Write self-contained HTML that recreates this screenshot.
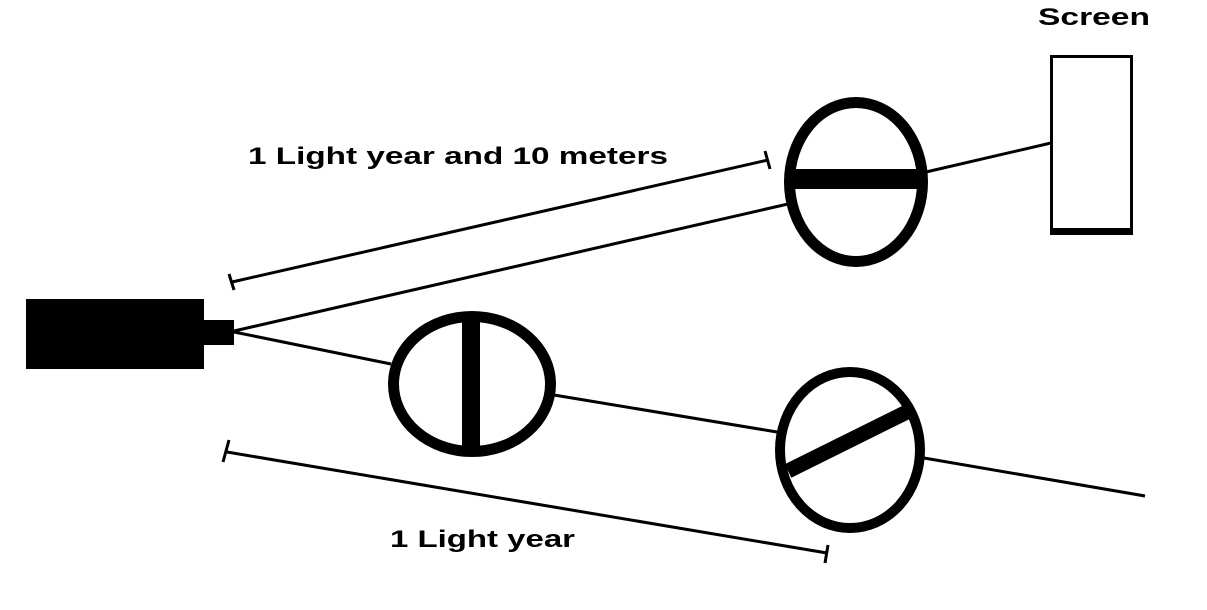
<!DOCTYPE html>
<html><head><style>html,body{margin:0;padding:0;background:#fff}svg{display:block}</style></head>
<body>
<svg width="1207" height="610" viewBox="0 0 1207 610" xmlns="http://www.w3.org/2000/svg">
<rect x="0" y="0" width="1207" height="610" fill="#fff"/>
<rect x="26" y="299" width="178" height="70" fill="#000"/>
<rect x="203" y="320" width="31" height="25" fill="#000"/>
<line x1="234" y1="331" x2="788" y2="204" stroke="#000" stroke-width="3"/>
<line x1="926" y1="172" x2="1051" y2="143" stroke="#000" stroke-width="3"/>
<line x1="234" y1="332" x2="391" y2="364" stroke="#000" stroke-width="3"/>
<line x1="554" y1="395" x2="777" y2="432" stroke="#000" stroke-width="3"/>
<line x1="924" y1="458" x2="1145" y2="496" stroke="#000" stroke-width="3"/>
<ellipse cx="856" cy="182" rx="66.5" ry="79.5" fill="#fff" stroke="#000" stroke-width="11"/>
<rect x="788" y="169" width="136" height="20" fill="#000"/>
<ellipse cx="472" cy="384" rx="78.5" ry="67.5" fill="#fff" stroke="#000" stroke-width="11"/>
<rect x="462" y="314" width="18" height="140" fill="#000"/>
<ellipse cx="850" cy="450" rx="70" ry="78" fill="#fff" stroke="#000" stroke-width="10"/>
<line x1="788" y1="471" x2="913" y2="409" stroke="#000" stroke-width="15"/>
<rect x="1051.5" y="56.5" width="80" height="176" fill="#fff" stroke="#000" stroke-width="3"/>
<rect x="1050" y="228" width="83" height="7" fill="#000"/>
<line x1="232" y1="282" x2="768" y2="160" stroke="#000" stroke-width="3"/>
<line x1="229" y1="274" x2="234" y2="290" stroke="#000" stroke-width="3"/>
<line x1="765" y1="151" x2="770" y2="169" stroke="#000" stroke-width="3"/>
<line x1="227" y1="452" x2="827" y2="553" stroke="#000" stroke-width="3"/>
<line x1="229" y1="440" x2="223" y2="462" stroke="#000" stroke-width="3"/>
<line x1="828" y1="545" x2="825" y2="563" stroke="#000" stroke-width="3"/>
<g font-family="Liberation Sans, sans-serif" font-weight="bold" font-size="24" fill="#000">
<text x="248" y="164" textLength="420" lengthAdjust="spacingAndGlyphs">1 Light year and 10 meters</text>
<text x="390" y="547" textLength="185" lengthAdjust="spacingAndGlyphs">1 Light year</text>
<text x="1038" y="25" textLength="112" lengthAdjust="spacingAndGlyphs">Screen</text>
</g>
</svg>
</body></html>
